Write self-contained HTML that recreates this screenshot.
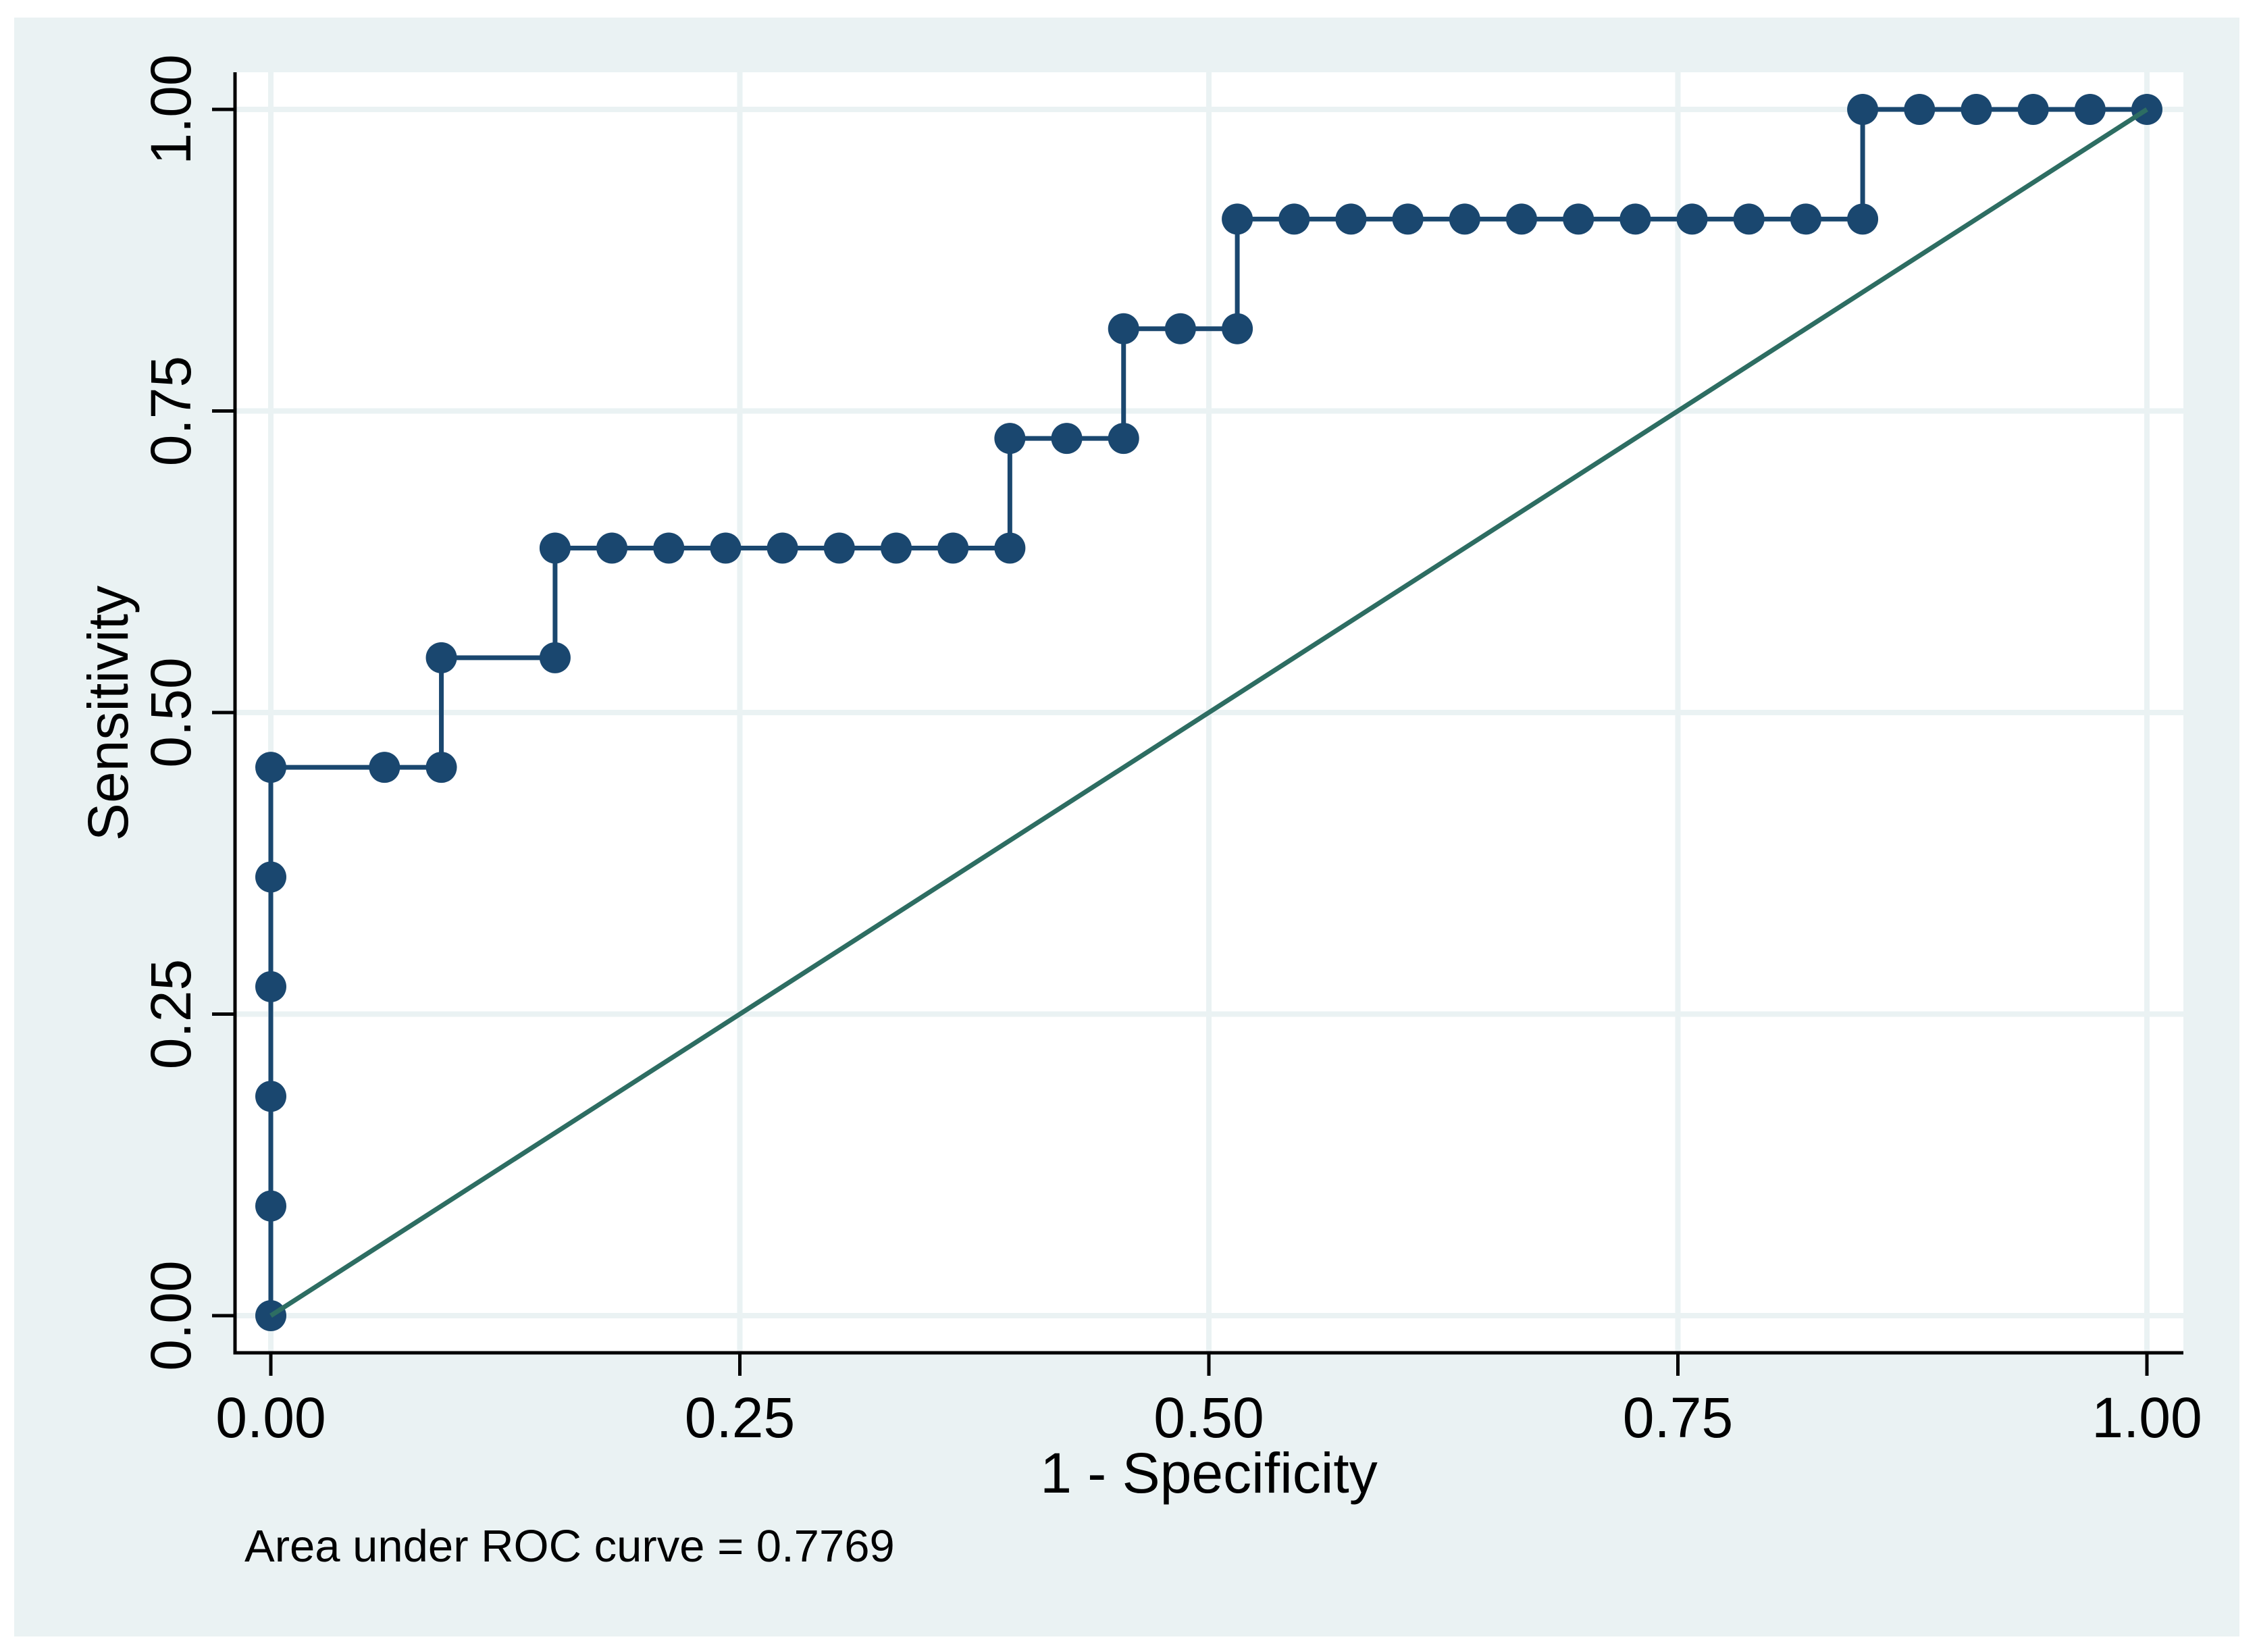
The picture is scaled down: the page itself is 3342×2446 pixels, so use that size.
<!DOCTYPE html>
<html><head><meta charset="utf-8"><style>
html,body{margin:0;padding:0;background:#fff;}
svg{display:block;font-family:"Liberation Sans",Arial,sans-serif;}
</style></head><body>
<svg id="chart" width="3342" height="2446" viewBox="0 0 3342 2446" xmlns="http://www.w3.org/2000/svg">
<rect x="21" y="26" width="3295" height="2397" fill="#eaf2f3"/>
<rect x="348" y="107" width="2885" height="1896" fill="#fff"/>
<g id="grid"></g>
<g id="axes"></g>
<g id="series"></g>
<text x="1790" y="2210" font-size="84" text-anchor="middle">1 - Specificity</text>
<text transform="translate(189,1056) rotate(-90)" font-size="84" text-anchor="middle">Sensitivity</text>
<text x="362" y="2312" font-size="67">Area under ROC curve = 0.7769</text>
</svg>
<script>
const fpr = [0,0,0,0,0,0,2/33,3/33,3/33,5/33,5/33,6/33,7/33,8/33,9/33,10/33,11/33,12/33,13/33,13/33,14/33,15/33,15/33,16/33,17/33,17/33,18/33,19/33,20/33,21/33,22/33,23/33,24/33,25/33,26/33,27/33,28/33,28/33,29/33,30/33,31/33,32/33,1];
const tpr = [0,1/11,2/11,3/11,4/11,5/11,5/11,5/11,6/11,6/11,7/11,7/11,7/11,7/11,7/11,7/11,7/11,7/11,7/11,8/11,8/11,8/11,9/11,9/11,9/11,10/11,10/11,10/11,10/11,10/11,10/11,10/11,10/11,10/11,10/11,10/11,10/11,1,1,1,1,1,1];
const refX = [0,1];
const refY = [0,1];
const ticks = [0,0.25,0.5,0.75,1];
const tickLabels = ["0.00","0.25","0.50","0.75","1.00"];

const NS="http://www.w3.org/2000/svg";
const X0=401,X1=3179,Y0=1948,Y1=162;
const sx=v=>X0+v*(X1-X0);
const sy=v=>Y0-v*(Y0-Y1);
function mk(tag,attrs,parent){const e=document.createElementNS(NS,tag);for(const k in attrs)e.setAttribute(k,attrs[k]);parent.appendChild(e);return e;}
const grid=document.getElementById('grid'),axes=document.getElementById('axes'),series=document.getElementById('series');
ticks.forEach((t,i)=>{
  let g=mk('line',{x1:sx(t),x2:sx(t),y1:107,y2:2003,stroke:'#eaf2f3','stroke-width':8},grid);
  
  
  let h=mk('line',{x1:348,x2:3233,y1:sy(t),y2:sy(t),stroke:'#eaf2f3','stroke-width':8},grid);
  
  
  let xt=mk('line',{x1:sx(t),x2:sx(t),y1:2003,y2:2037,stroke:'#000','stroke-width':5},axes);
  
  
  let yt=mk('line',{x1:314,x2:348,y1:sy(t),y2:sy(t),stroke:'#000','stroke-width':5},axes);
  
  
  let xl=mk('text',{x:sx(t),y:2128,'font-size':84,'text-anchor':'middle'},axes);
  xl.textContent=tickLabels[i];
  
  
  let yl=mk('text',{transform:`translate(282,${sy(t)}) rotate(-90)`,'font-size':84,'text-anchor':'middle'},axes);
  yl.textContent=tickLabels[i];
  
  
});
let ax=mk('path',{d:'M348,107 V2003 H3233',fill:'none',stroke:'#000','stroke-width':5},axes);


let pts=fpr.map((v,i)=>sx(v)+','+sy(tpr[i])).join(' ');
let curve=mk('polyline',{points:pts,fill:'none',stroke:'#1a476f','stroke-width':7},series);


fpr.forEach((v,i)=>{
  let c=mk('circle',{cx:sx(v),cy:sy(tpr[i]),r:23,fill:'#1a476f'},series);
  
  
});
let ref=mk('line',{x1:sx(refX[0]),y1:sy(refY[0]),x2:sx(refX[1]),y2:sy(refY[1]),stroke:'#2d6d62','stroke-width':7},series);


</script>
</body></html>
